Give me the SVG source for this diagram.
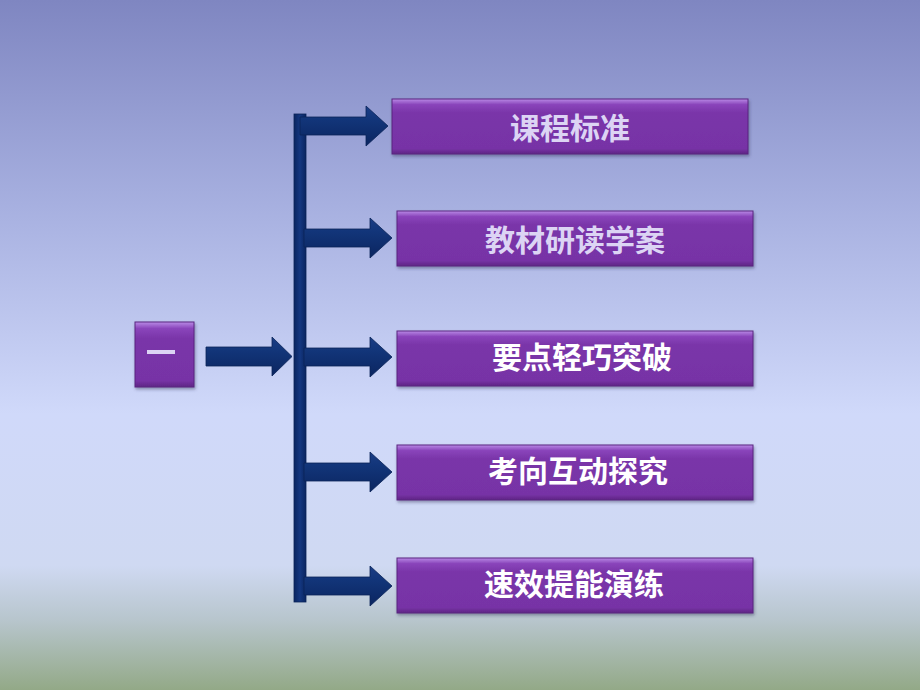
<svg xmlns="http://www.w3.org/2000/svg" width="920" height="690" viewBox="0 0 920 690">
<defs>
<linearGradient id="bg" x1="0" y1="0" x2="0" y2="1">
<stop offset="0" stop-color="#7f86c1"/>
<stop offset="0.3" stop-color="#a7b0e0"/>
<stop offset="0.6" stop-color="#d0d9fa"/>
<stop offset="0.82" stop-color="#cfd9f2"/>
<stop offset="0.9" stop-color="#b7c5cc"/>
<stop offset="1" stop-color="#93a987"/>
</linearGradient>
<linearGradient id="box" x1="0" y1="0" x2="0" y2="1">
<stop offset="0" stop-color="#b98ae6"/>
<stop offset="0.1" stop-color="#8a45bb"/>
<stop offset="0.25" stop-color="#7a35a9"/>
<stop offset="0.9" stop-color="#7733a6"/>
<stop offset="1" stop-color="#5f2585"/>
</linearGradient>
<linearGradient id="arr" x1="0" y1="0" x2="0" y2="1">
<stop offset="0" stop-color="#1a3d86"/>
<stop offset="0.35" stop-color="#123579"/>
<stop offset="1" stop-color="#0b2560"/>
</linearGradient>
<linearGradient id="bar" x1="0" y1="0" x2="1" y2="0">
<stop offset="0" stop-color="#0a2560"/>
<stop offset="0.5" stop-color="#143780"/>
<stop offset="1" stop-color="#0a2560"/>
</linearGradient>
<filter id="sh" x="-10%" y="-20%" width="120%" height="150%">
<feDropShadow dx="1" dy="2" stdDeviation="1.5" flood-color="#30305a" flood-opacity="0.45"/>
</filter>
<path id="ar" d="M0,-9 H66 V-20 L88,0 L66,20 V9 H0 Z"/>
</defs>
<style>
.bx{fill:url(#box);stroke:#5a2580;stroke-width:1;filter:url(#sh)}
.t{font-family:"Noto Sans CJK SC","Liberation Sans",sans-serif;font-weight:bold;font-size:30px;text-anchor:middle;dominant-baseline:central}
.t1{fill:#dcd4f4}
.t2{fill:#ffffff}
.a{fill:url(#arr);stroke:#0a2358;stroke-width:0.8}
</style>
<rect width="920" height="690" fill="url(#bg)"/>
<g id="connectors">
<rect x="294" y="114" width="12" height="488" fill="url(#bar)" stroke="#0a2358" stroke-width="0.8"/>
<path class="a" d="M206,347 H272 V337 L292,356.5 L272,376 V366 H206 Z"/>
<use href="#ar" class="a" x="300" y="126"/>
<use href="#ar" class="a" x="304" y="238"/>
<use href="#ar" class="a" x="304" y="357"/>
<use href="#ar" class="a" x="304" y="472"/>
<use href="#ar" class="a" x="304" y="586"/>
</g>
<g id="root">
<rect class="bx" x="135" y="322" width="59" height="65"/>
<rect x="147" y="350" width="28" height="4" fill="#dcd4f4"/>
</g>
<g id="n1">
<rect class="bx" x="392" y="99" width="356" height="55"/>
<text class="t t1" x="570" y="126">课程标准</text>
</g>
<g id="n2">
<rect class="bx" x="397" y="211" width="356" height="55"/>
<text class="t t1" x="575" y="238">教材研读学案</text>
</g>
<g id="n3">
<rect class="bx" x="397" y="331" width="356" height="55"/>
<text class="t t2" x="582" y="355">要点轻巧突破</text>
</g>
<g id="n4">
<rect class="bx" x="397" y="445" width="356" height="55"/>
<text class="t t2" x="578" y="469">考向互动探究</text>
</g>
<g id="n5">
<rect class="bx" x="397" y="558" width="356" height="55"/>
<text class="t t2" x="574" y="582">速效提能演练</text>
</g>
</svg>
